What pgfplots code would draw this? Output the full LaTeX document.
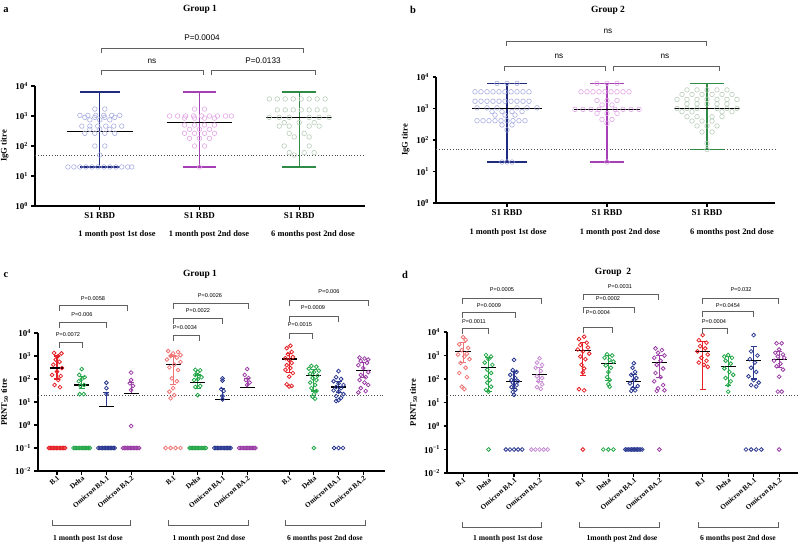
\documentclass[border=0pt]{standalone}
\usepackage{fontspec}
\setmainfont{Liberation Serif}
\newfontfamily\pfont{Liberation Sans}
\usepackage{pgfplots}
\pgfplotsset{compat=1.18}

\definecolor{navy}{HTML}{1E2B7E}
\definecolor{wpurp}{HTML}{A43FB4}
\definecolor{wgreen}{HTML}{2E8B45}
\definecolor{ptA}{HTML}{A9AEE0}
\definecolor{ptB}{HTML}{E2A6E6}
\definecolor{ptC}{HTML}{B9CDB9}
\definecolor{cred}{HTML}{E52228}
\definecolor{clred}{HTML}{EF7374}
\definecolor{cgreen}{HTML}{25A74A}
\definecolor{cblue}{HTML}{2B3990}
\definecolor{cpurp}{HTML}{9B3FA6}
\definecolor{clpurp}{HTML}{C98FD4}
\definecolor{brk}{HTML}{606060}

\pgfplotsset{
  every axis/.append style={scale only axis, anchor=south west,
    axis lines=left, axis line style={-, line width=1.3pt},
    tick align=outside, major tick length=3.5pt,
    yminorticks=false, xminorticks=false, clip=false,
    tick label style={font=\bfseries\fontsize{9}{10}\selectfont},
    ylabel style={font=\bfseries\fontsize{8.5}{9}\selectfont}},
  every tick/.append style={black, line width=1.1pt},
  mkA/.style={only marks, mark=o, mark size=2.3pt, color=#1, mark options={line width=0.6pt}},
  mkC/.style={only marks, mark=o, mark size=1.9pt, color=#1, mark options={line width=0.8pt}},
  rotlab/.style={xticklabel style={rotate=40, anchor=north east, inner sep=0.5pt, font=\bfseries\fontsize{7.2}{8}\selectfont}},
}

% colour, x, low, median, high, cap half width, median half width
\newcommand\whisk[7]{%
  \pgfmathsetmacro\wa{#2-#6}\pgfmathsetmacro\wb{#2+#6}%
  \pgfmathsetmacro\ma{#2-#7}\pgfmathsetmacro\mb{#2+#7}%
  \addplot[#1, line width=1.1pt] coordinates {(#2,#3)(#2,#5)};
  \addplot[#1, line width=1.1pt] coordinates {(\wa,#5)(\wb,#5)};
  \addplot[#1, line width=1.1pt] coordinates {(\wa,#3)(\wb,#3)};
  \addplot[black, line width=1.1pt] coordinates {(\ma,#4)(\mb,#4)};
}
% x1, x2, y, arm length (picture px)
\newcommand\brk[4]{\draw[brk, line width=0.7pt] (#1,{#3+#4}) -- (#1,#3) -- (#2,#3) -- (#2,{#3+#4});}
\newcommand\ubrk[4]{\draw[brk, line width=0.7pt] (#1,{#3-#4}) -- (#1,#3) -- (#2,#3) -- (#2,{#3-#4});}

\begin{document}
\begin{tikzpicture}
\useasboundingbox (0,0) rectangle (800pt,-549pt);

% ---------------- a ----------------
\begin{axis}[ymode=log, at={(35pt,-206pt)}, width=330pt, height=120pt,
  xmin=0.35, xmax=3.66, ymin=1, ymax=1e4,
  ytick={1,10,100,1000,10000},
  yticklabels={10\textsuperscript{0},10\textsuperscript{1},10\textsuperscript{2},10\textsuperscript{3},10\textsuperscript{4}},
  xtick={1,2,3}, xticklabels={S1 RBD,S1 RBD,S1 RBD},
  ylabel={IgG titre}]
\addplot[mkA=ptA] coordinates {(0.95,1700)(1.05,1700)
 (0.8,1050)(0.88,1050)(0.96,1050)(1.04,1050)(1.12,1050)(1.2,1050)
 (0.85,900)(0.95,900)(1.05,900)(1.15,900)(0.9,740)(1.0,740)(1.1,740)
 (0.82,460)(0.9,460)(0.98,460)(1.06,460)(1.14,460)(1.22,460)
 (0.9,360)(1.0,360)(1.1,360)(0.85,265)(0.95,265)(1.05,265)(1.15,265)
 (0.95,100)(1.05,100)(1.0,50)
 (0.68,20)(0.74,20)(0.8,20)(0.86,20)(0.92,20)(0.98,20)(1.04,20)(1.1,20)(1.16,20)(1.22,20)(1.28,20)(1.32,20)};
\addplot[mkA=ptB] coordinates {(1.95,1700)(2.05,1700)
 (1.7,1000)(1.78,1000)(1.86,1000)(1.94,1000)(2.02,1000)(2.1,1000)(2.18,1000)(2.26,1000)(2.32,1000)
 (1.85,850)(1.95,850)(2.05,850)(2.15,850)(1.85,500)(1.95,500)(2.05,500)(2.15,500)
 (1.9,360)(2.0,360)(2.1,360)(1.85,265)(1.95,265)(2.05,265)(2.15,265)
 (1.9,180)(2.0,180)(2.1,180)(1.95,100)(2.05,100)(2.0,20)};
\addplot[mkA=ptC] coordinates {(2.7,3700)(2.78,3700)(2.86,3700)(2.94,3700)(3.02,3700)(3.1,3700)(3.18,3700)(3.26,3700)
 (2.78,1600)(2.86,1600)(2.94,1600)(3.02,1600)(3.1,1600)(3.18,1600)(3.26,1600)
 (2.7,900)(2.8,900)(2.9,900)(3.1,900)(3.2,900)(3.3,900)
 (2.85,600)(3.0,600)(3.15,600)(2.8,460)(2.9,460)(3.1,460)(3.2,460)
 (2.9,265)(3.05,265)(2.95,200)(3.1,200)(2.85,100)(3.1,100)
 (2.9,60)(3.05,60)(3.15,60)(2.95,50)};
\addplot[dotted, line width=0.8pt, black!70] coordinates {(0.35,50)(3.66,50)};
\whisk{navy}{1}{20}{300}{6300}{0.2}{0.33}
\whisk{wpurp}{2}{20}{600}{6300}{0.17}{0.33}
\whisk{wgreen}{3}{20}{900}{6300}{0.17}{0.33}
\end{axis}

% ---------------- b ----------------
\begin{axis}[ymode=log, at={(436pt,-203pt)}, width=339pt, height=126pt,
  xmin=0.29, xmax=3.68, ymin=1, ymax=1e4,
  ytick={1,10,100,1000,10000},
  yticklabels={10\textsuperscript{0},10\textsuperscript{1},10\textsuperscript{2},10\textsuperscript{3},10\textsuperscript{4}},
  xtick={1,2,3}, xticklabels={S1 RBD,S1 RBD,S1 RBD},
  ylabel={IgG titre}]
\addplot[mkA=ptA] coordinates {(0.9,6300)(1.0,6300)(1.1,6300)
 (0.68,3400)(0.74,3400)(0.8,3400)(0.86,3400)(0.92,3400)(0.98,3400)(1.04,3400)(1.1,3400)(1.16,3400)(1.22,3400)
 (0.68,1700)(0.74,1700)(0.8,1700)(0.86,1700)(0.92,1700)(0.98,1700)(1.04,1700)(1.1,1700)(1.16,1700)(1.22,1700)
 (0.7,1050)(0.8,1050)(0.9,1050)(1.1,1050)(1.2,1050)(1.3,1050)
 (0.85,800)(0.95,800)(1.05,800)(1.15,800)(0.88,620)(0.98,620)(1.08,620)
 (0.7,410)(0.76,410)(0.82,410)(0.88,410)(0.94,410)(1.0,410)(1.06,410)(1.12,410)(1.18,410)
 (0.95,300)(1.05,300)(1.0,210)(0.95,20)(1.0,20)(1.05,20)};
\addplot[mkA=ptB] coordinates {(1.9,6300)(2.0,6300)(2.1,6300)
 (1.74,3400)(1.8,3400)(1.86,3400)(1.92,3400)(1.98,3400)(2.04,3400)(2.1,3400)(2.16,3400)(2.22,3400)
 (1.9,1800)(2.0,1800)(2.1,1800)(1.95,1300)(2.05,1300)
 (1.68,940)(1.76,940)(1.84,940)(1.92,940)(2.08,940)(2.16,940)(2.24,940)(2.32,940)
 (1.9,700)(2.0,700)(2.1,700)(1.95,450)(2.05,450)(2.0,340)(2.0,20)};
\addplot[mkA=ptC] coordinates {(2.8,3900)(2.9,3900)(3.0,3900)(3.1,3900)(3.2,3900)
 (2.75,2800)(2.85,2800)(2.95,2800)(3.05,2800)(3.15,2800)(3.25,2800)
 (2.7,1950)(2.8,1950)(2.9,1950)(3.0,1950)(3.1,1950)(3.2,1950)(3.3,1950)
 (2.8,1400)(2.9,1400)(3.0,1400)(3.1,1400)(3.2,1400)
 (2.7,1000)(2.8,1000)(2.9,1000)(3.1,1000)(3.2,1000)(3.3,1000)
 (2.75,790)(2.85,790)(3.15,790)(3.25,790)(2.8,550)(2.9,550)(3.05,550)(3.15,550)
 (2.85,400)(2.95,400)(3.05,400)(2.9,280)(3.0,280)(3.1,280)
 (2.95,180)(3.05,180)(3.0,78)(3.0,50)};
\addplot[dotted, line width=0.8pt, black!70] coordinates {(0.29,50)(3.68,50)};
\whisk{navy}{1}{20}{1000}{6300}{0.2}{0.35}
\whisk{wpurp}{2}{20}{940}{6300}{0.17}{0.33}
\whisk{wgreen}{3}{50}{1000}{6300}{0.17}{0.33}
\end{axis}

% ---------------- c ----------------
\begin{axis}[ymode=log, at={(38pt,-471pt)}, width=347pt, height=138pt,
  xmin=-0.77, xmax=13.28, ymin=1e-2, ymax=1e4,
  ytick={0.01,0.1,1,10,100,1000,10000},
  yticklabels={10\textsuperscript{−2},10\textsuperscript{−1},10\textsuperscript{0},10\textsuperscript{1},10\textsuperscript{2},10\textsuperscript{3},10\textsuperscript{4}},
  xtick={0,1,2,3,4.7,5.7,6.7,7.7,9.4,10.4,11.4,12.4},
  xticklabels={B.1,Delta,Omicron BA.1,Omicron BA.2,B.1,Delta,Omicron BA.1,Omicron BA.2,B.1,Delta,Omicron BA.1,Omicron BA.2},
  rotlab, ylabel={PRNT\textsubscript{50} titre}]
\addplot[mkC=cred] coordinates {(-0.12,1350)(0.18,1300)(0.05,1000)(-0.05,700)(0.1,560)(-0.15,420)(0.2,300)(0.0,210)(-0.2,150)(0.15,135)(0.05,91)(-0.1,55)(0.12,44)
 (-0.33,0.1)(-0.27,0.1)(-0.21,0.1)(-0.15,0.1)(-0.09,0.1)(-0.03,0.1)(0.03,0.1)(0.09,0.1)(0.15,0.1)(0.21,0.1)(0.27,0.1)(0.33,0.1)
 (9.45,2800)(9.3,2200)(9.5,1500)(9.35,1200)(9.55,900)(9.25,800)(9.4,650)(9.5,500)(9.3,400)(9.45,300)(9.25,250)(9.55,180)(9.4,126)(9.3,59)(9.5,50)(9.4,47)};
\addplot[mkC=clred] coordinates {(4.5,1650)(4.9,1500)(4.7,1300)(5.0,1100)(4.6,1000)(4.85,850)(4.45,700)(5.0,550)(4.75,420)(4.55,320)(4.9,245)(4.65,107)(4.85,80)(4.7,40)(4.55,28)(4.75,20)(4.6,14.5)
 (4.4,0.1)(4.6,0.1)(4.8,0.1)(5.0,0.1)};
\addplot[mkC=cgreen] coordinates {(1.0,270)(0.9,150)(1.12,120)(1.0,100)(0.88,80)(1.1,55)(0.95,50)(0.92,22)(1.08,22)
 (0.67,0.1)(0.73,0.1)(0.79,0.1)(0.85,0.1)(0.91,0.1)(0.97,0.1)(1.03,0.1)(1.09,0.1)(1.15,0.1)(1.21,0.1)(1.27,0.1)(1.33,0.1)
 (5.6,250)(5.8,240)(5.7,200)(5.6,150)(5.85,120)(5.7,100)(5.55,90)(5.8,50)(5.6,45)(5.7,20)
 (5.37,0.1)(5.43,0.1)(5.49,0.1)(5.55,0.1)(5.61,0.1)(5.67,0.1)(5.73,0.1)(5.79,0.1)(5.85,0.1)(5.91,0.1)(5.97,0.1)(6.03,0.1)
 (10.3,370)(10.5,340)(10.2,280)(10.6,230)(10.4,200)(10.25,170)(10.55,140)(10.35,110)(10.5,90)(10.25,70)(10.45,55)(10.3,40)(10.5,30)(10.4,22)(10.35,17)(10.45,14)
 (10.4,0.1)};
\addplot[mkC=cblue] coordinates {(2,69)(2,40)(2,22)
 (1.67,0.1)(1.73,0.1)(1.79,0.1)(1.85,0.1)(1.91,0.1)(1.97,0.1)(2.03,0.1)(2.09,0.1)(2.15,0.1)(2.21,0.1)(2.27,0.1)(2.33,0.1)
 (6.7,107)(6.7,85)(6.65,36)(6.75,30)(6.7,18)(6.7,13)
 (6.37,0.1)(6.43,0.1)(6.49,0.1)(6.55,0.1)(6.61,0.1)(6.67,0.1)(6.73,0.1)(6.79,0.1)(6.85,0.1)(6.91,0.1)(6.97,0.1)(7.03,0.1)
 (11.4,220)(11.3,120)(11.5,100)(11.2,80)(11.4,65)(11.6,55)(11.3,45)(11.5,40)(11.2,32)(11.4,28)(11.6,22)(11.3,18)(11.5,15)(11.4,12)(11.3,11)
 (11.22,0.1)(11.4,0.1)(11.58,0.1)};
\addplot[mkC=cpurp] coordinates {(3,190)(3,91)(2.95,65)(3.08,50)(3,33)(3,0.9)
 (2.67,0.1)(2.73,0.1)(2.79,0.1)(2.85,0.1)(2.91,0.1)(2.97,0.1)(3.03,0.1)(3.09,0.1)(3.15,0.1)(3.21,0.1)(3.27,0.1)(3.33,0.1)
 (7.7,270)(7.6,150)(7.75,110)(7.65,90)(7.8,70)(7.7,55)
 (7.37,0.1)(7.43,0.1)(7.49,0.1)(7.55,0.1)(7.61,0.1)(7.67,0.1)(7.73,0.1)(7.79,0.1)(7.85,0.1)(7.91,0.1)(7.97,0.1)(8.03,0.1)
 (12.25,850)(12.45,780)(12.6,700)(12.3,600)(12.55,500)(12.2,400)(12.4,300)(12.6,200)(12.3,150)(12.5,120)(12.25,90)(12.45,70)(12.6,55)(12.3,40)(12.5,30)(12.2,26)};
\addplot[dotted, line width=0.8pt, black!70] coordinates {(-0.77,20)(13.28,20)};
\whisk{cred}{0}{100}{300}{1000}{0.12}{0.3}
\whisk{cgreen}{1}{40}{55}{130}{0.12}{0.3}
\whisk{cblue}{2}{6.3}{6.3}{25}{0.12}{0.3}
\whisk{cpurp}{3}{24}{24}{70}{0.12}{0.3}
\whisk{clred}{4.7}{60}{410}{1000}{0.12}{0.3}
\whisk{cgreen}{5.7}{40}{69}{150}{0.12}{0.3}
\whisk{cblue}{6.7}{13}{13}{40}{0.12}{0.3}
\whisk{cpurp}{7.7}{41}{41}{110}{0.12}{0.3}
\whisk{cred}{9.4}{200}{740}{1300}{0.12}{0.3}
\whisk{cgreen}{10.4}{30}{140}{250}{0.12}{0.3}
\whisk{cblue}{11.4}{25}{45}{80}{0.12}{0.3}
\whisk{cpurp}{12.4}{120}{245}{500}{0.12}{0.3}
\end{axis}

% ---------------- d ----------------
\begin{axis}[ymode=log, at={(447pt,-473pt)}, width=351pt, height=141pt,
  xmin=-0.63, xmax=13.14, ymin=1e-2, ymax=1e4,
  ytick={0.01,0.1,1,10,100,1000,10000},
  yticklabels={10\textsuperscript{−2},10\textsuperscript{−1},10\textsuperscript{0},10\textsuperscript{1},10\textsuperscript{2},10\textsuperscript{3},10\textsuperscript{4}},
  xtick={0,1,2,3,4.7,5.7,6.7,7.7,9.4,10.4,11.4,12.4},
  xticklabels={B.1,Delta,Omicron BA.1,Omicron BA.2,B.1,Delta,Omicron BA.1,Omicron BA.2,B.1,Delta,Omicron BA.1,Omicron BA.2},
  rotlab, ylabel={PRNT\textsubscript{50} titre}]
\addplot[mkC=clred] coordinates {(0.0,6000)(0.1,4600)(-0.15,3000)(0.2,2100)(-0.05,1700)(0.15,1200)(-0.2,1100)(0.05,900)(0.25,700)(-0.1,480)(0.1,300)(-0.15,180)(0.15,120)(-0.05,47)(0.05,37)};
\addplot[mkC=cred] coordinates {(4.75,6300)(4.55,5000)(4.85,3500)(4.6,2800)(4.9,2200)(4.5,1800)(4.7,1500)(4.95,1200)(4.6,900)(4.8,700)(4.65,400)(4.75,280)(4.7,190)(4.55,37)(4.75,33)(4.7,0.1)
 (9.4,7400)(9.25,4500)(9.55,3500)(9.3,2500)(9.5,2000)(9.2,1500)(9.6,1100)(9.35,800)(9.55,600)(9.25,500)(9.45,400)(9.6,330)};
\addplot[mkC=cgreen] coordinates {(0.9,1050)(1.1,900)(1.0,700)(0.85,500)(1.15,400)(0.95,250)(1.1,180)(0.9,125)(1.05,90)(0.95,70)(1.1,47)(0.9,35)(1.0,29)(1,0.1)
 (5.65,1120)(5.85,1000)(5.55,800)(5.75,650)(5.9,550)(5.6,380)(5.8,300)(5.7,200)(5.65,120)(5.75,91)(5.7,60)(5.75,47)(5.5,0.1)(5.7,0.1)(5.9,0.1)
 (10.4,1050)(10.25,900)(10.55,800)(10.3,600)(10.5,450)(10.25,280)(10.45,200)(10.6,150)(10.3,110)(10.5,80)(10.4,55)(10.4,29)};
\addplot[mkC=cblue] coordinates {(2.0,650)(1.95,240)(2.1,200)(1.85,150)(2.05,110)(1.9,90)(2.15,80)(1.95,70)(2.1,55)(1.9,45)(2.05,35)(1.95,28)(2.0,21)
 (1.68,0.1)(1.84,0.1)(2.0,0.1)(2.16,0.1)(2.32,0.1)
 (6.7,470)(6.65,300)(6.75,200)(6.6,150)(6.8,110)(6.7,90)(6.55,65)(6.85,50)(6.65,40)(6.75,33)(6.6,31)
 (6.37,0.1)(6.43,0.1)(6.49,0.1)(6.55,0.1)(6.61,0.1)(6.67,0.1)(6.73,0.1)(6.79,0.1)(6.85,0.1)(6.91,0.1)(6.97,0.1)(7.03,0.1)
 (11.4,7400)(11.3,1500)(11.55,1000)(11.25,700)(11.45,500)(11.3,300)(11.5,200)(11.2,130)(11.4,90)(11.6,70)(11.3,55)(11.5,48)
 (11.1,0.1)(11.3,0.1)(11.5,0.1)(11.7,0.1)};
\addplot[mkC=clpurp] coordinates {(3.0,760)(2.9,500)(3.1,400)(2.85,300)(3.05,220)(2.9,130)(3.1,110)(2.95,80)(3.1,60)(2.9,45)(3.05,38)
 (2.68,0.1)(2.84,0.1)(3.0,0.1)(3.16,0.1)(3.32,0.1)};
\addplot[mkC=cpurp] coordinates {(7.55,2000)(7.8,1700)(7.65,1300)(7.9,1000)(7.5,800)(7.75,600)(7.6,400)(7.85,280)(7.55,180)(7.75,120)(7.5,80)(7.85,55)(7.65,40)(7.9,33)(7.6,31)(7.7,0.1)
 (12.3,3300)(12.5,3300)(12.4,1800)(12.25,1300)(12.55,1100)(12.35,900)(12.6,800)(12.2,600)(12.45,450)(12.3,350)(12.55,250)(12.4,126)(12.35,29)(12.5,29)(12.4,0.1)};
\addplot[dotted, line width=0.8pt, black!70] coordinates {(-0.63,20)(13.14,20)};
\whisk{clred}{0}{500}{1500}{3500}{0.12}{0.3}
\whisk{cgreen}{1}{30}{300}{800}{0.12}{0.3}
\whisk{cblue}{2}{40}{80}{200}{0.12}{0.3}
\whisk{clpurp}{3}{80}{150}{300}{0.12}{0.3}
\whisk{cred}{4.7}{140}{1700}{3500}{0.12}{0.3}
\whisk{cgreen}{5.7}{90}{470}{1000}{0.12}{0.3}
\whisk{cblue}{6.7}{45}{77}{160}{0.12}{0.3}
\whisk{cpurp}{7.7}{120}{490}{1000}{0.12}{0.3}
\whisk{cred}{9.4}{37}{1500}{4000}{0.12}{0.3}
\whisk{cgreen}{10.4}{55}{330}{900}{0.12}{0.3}
\whisk{cblue}{11.4}{100}{600}{2400}{0.12}{0.3}
\whisk{cpurp}{12.4}{300}{700}{1500}{0.12}{0.3}
\end{axis}

% ---------------- annotations ----------------
\begin{scope}[x=1pt, y=-1pt]
\tikzset{lett/.style={font=\bfseries\fontsize{10.5}{11}\selectfont},
  ttl/.style={font=\bfseries\fontsize{9.5}{10}\selectfont},
  tim/.style={font=\bfseries\fontsize{8.4}{9}\selectfont},
  tims/.style={font=\bfseries\fontsize{7.6}{8}\selectfont},
  pbig/.style={font=\pfont\fontsize{8.2}{9}\selectfont},
  psm/.style={font=\pfont\fontsize{5.6}{6}\selectfont}}
\node[lett] at (6,10) {a};
\node[ttl] at (200,9) {Group 1};
\node[lett] at (413,10) {b};
\node[ttl] at (608,10) {Group 2};
\node[lett] at (6,275) {c};
\node[ttl] at (200,274) {Group 1};
\node[lett] at (405,275) {d};
\node[ttl] at (613,272) {Group\ \ 2};

% a
\brk{101}{303}{48}{5} \node[pbig] at (202,38) {P=0.0004};
\brk{101}{203}{70}{5} \node[pbig] at (152,61) {ns};
\brk{211}{315}{70}{5} \node[pbig] at (263,61) {P=0.0133};
\node[tim] at (117,234) {1 month post 1st dose};
\node[tim] at (209,234) {1 month post 2nd dose};
\node[tim] at (313,234) {6 months post 2nd dose};
% b
\brk{506}{706}{41}{5} \node[pbig] at (608,31) {ns};
\brk{504}{605}{66}{5} \node[pbig] at (559,56) {ns};
\brk{613}{719}{66}{5} \node[pbig] at (665,56) {ns};
\node[tim] at (508,232) {1 month post 1st dose};
\node[tim] at (620,232) {1 month post 2nd dose};
\node[tim] at (732,232) {6 months post 2nd dose};
% c
\brk{59}{82}{342}{6} \node[psm] at (68,335) {P=0.0072};
\brk{59}{106}{322}{6} \node[psm] at (82,315) {P=0.006};
\brk{59}{127}{305}{6} \node[psm] at (93,299) {P=0.0058};
\brk{173}{199}{335}{6} \node[psm] at (185,328) {P=0.0034};
\brk{173}{222}{318}{6} \node[psm] at (198,311) {P=0.0022};
\brk{173}{248}{303}{6} \node[psm] at (210,296) {P=0.0026};
\brk{289}{312}{333}{6} \node[psm] at (300,325) {P=0.0015};
\brk{289}{338}{316}{6} \node[psm] at (313,308) {P=0.0009};
\brk{289}{368}{300}{6} \node[psm] at (329,292) {P=0.006};
\ubrk{52}{130}{525}{5} \node[tims] at (88,539) {1 month post 1st dose};
\ubrk{168}{248}{525}{5} \node[tims] at (209,539) {1 month post 2nd dose};
\ubrk{285}{365}{525}{5} \node[tims] at (325,539) {6 months post 2nd dose};
% d
\brk{462}{488}{328}{6} \node[psm] at (474,322) {P=0.0011};
\brk{462}{515}{312}{6} \node[psm] at (489,306) {P=0.0009};
\brk{462}{541}{298}{6} \node[psm] at (502,290) {P=0.0005};
\brk{583}{612}{327}{6} \node[psm] at (598,313) {P=0.0004};
\brk{583}{634}{307}{6} \node[psm] at (608,299) {P=0.0002};
\brk{583}{658}{294}{6} \node[psm] at (620,287) {P=0.0031};
\brk{702}{727}{328}{6} \node[psm] at (714,322) {P=0.0004};
\brk{702}{753}{311}{6} \node[psm] at (728,306) {P=0.0454};
\brk{702}{778}{298}{6} \node[psm] at (741,290) {P=0.032};
\ubrk{462}{541}{527}{5} \node[tims] at (508,539) {1 month post 1st dose};
\ubrk{579}{659}{527}{5} \node[tims] at (622,539) {1month post 2nd dose};
\ubrk{698}{778}{527}{5} \node[tims] at (738,539) {6 months post 2nd dose};
\end{scope}
\end{tikzpicture}
\end{document}
